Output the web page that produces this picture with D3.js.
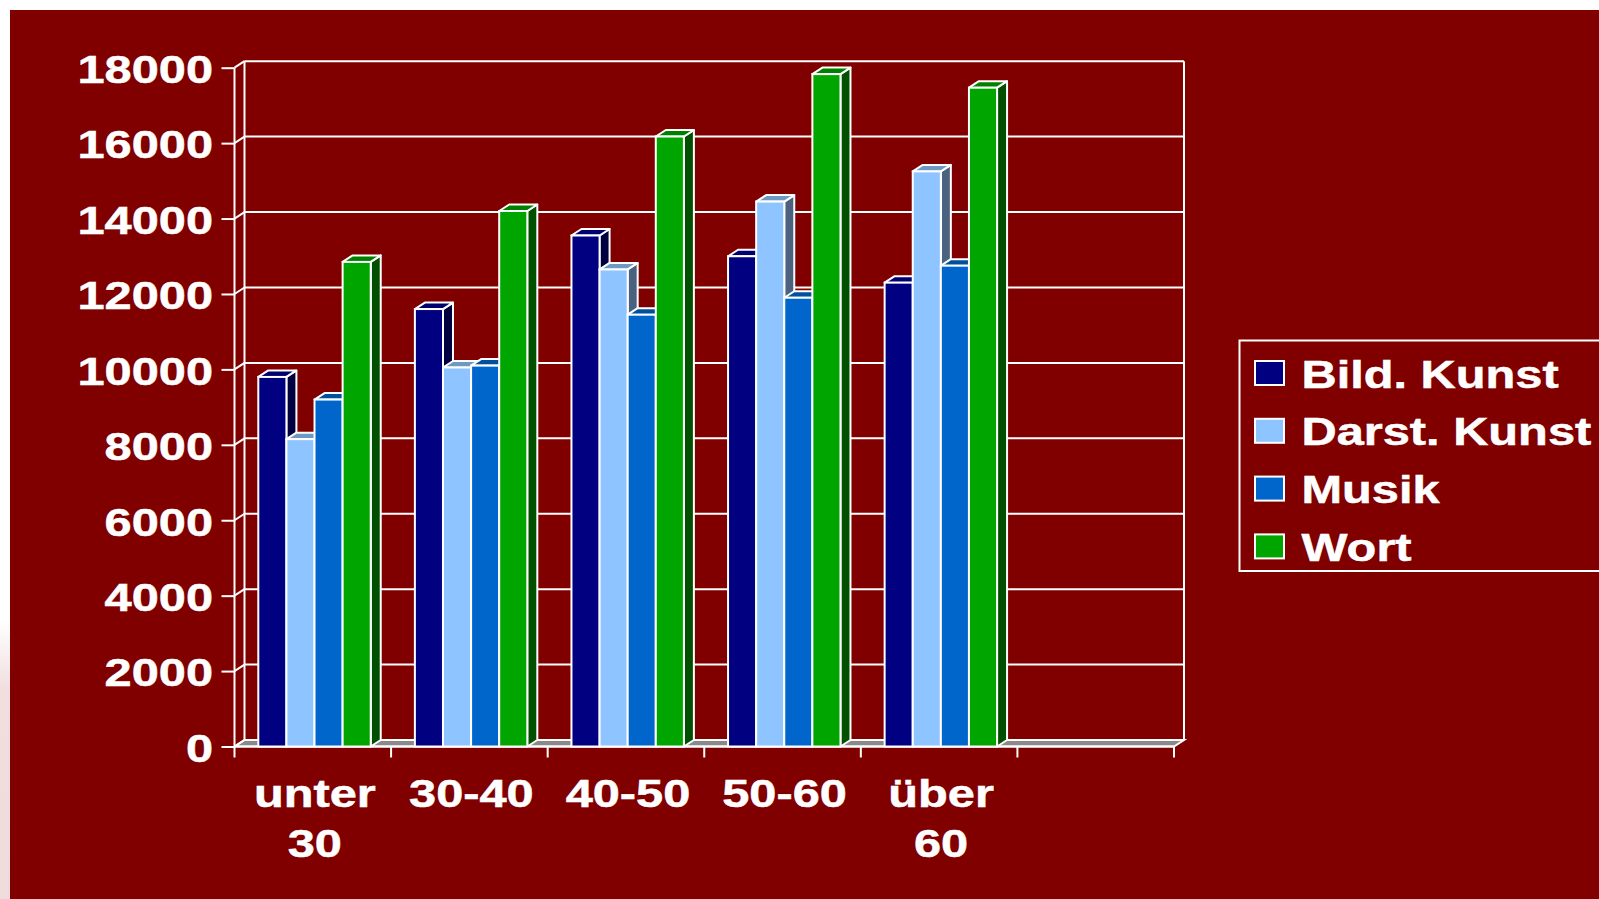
<!DOCTYPE html>
<html>
<head>
<meta charset="utf-8">
<script src="https://cdn.jsdelivr.net/npm/d3@7"></script>
<style>
  html, body { margin: 0; padding: 0; background: #ffffff; overflow: hidden; }
  svg { display: block; }
  text { font-family: "Liberation Sans", Arial, sans-serif; font-weight: bold; fill: #ffffff; stroke: #ffffff; stroke-width: 0.5px; }
</style>
</head>
<body>
<svg id="chart" width="1599" height="899"></svg>
<script>
// ---------- data ----------
const categories = ["unter 30", "30-40", "40-50", "50-60", "über 60", ""];
const seriesNames = ["Bild. Kunst", "Darst. Kunst", "Musik", "Wort"];
const bildKunst  = [9800, 11600, 13550, 13000, 12300];
const darstKunst = [8150, 10050, 12650, 14450, 15250];
const musik      = [9200, 10100, 11450, 11900, 12750];
const wort       = [12850, 14200, 16175, 17830, 17470];
const yTicks = [0, 2000, 4000, 6000, 8000, 10000, 12000, 14000, 16000, 18000];

const seriesValues = [bildKunst, darstKunst, musik, wort];
const frontColors = ["#000080", "#8EC4FF", "#0066CC", "#00A500"];
const topColors   = ["#000070", "#6F98C2", "#0050A0", "#008000"];
const sideColors  = ["#000040", "#4A6280", "#003A78", "#005000"];

// ---------- layout ----------
const svg = d3.select("#chart");
const X0 = 234.5, X1 = 1174, Y0 = 746.5, YT = 67.7;
const DX = 10, DY = -6.5;
const STRETCH = 1.25;
const FS = 39;

const x = d3.scaleBand().domain(d3.range(categories.length)).range([X0, X1]).paddingInner(0).paddingOuter(0);
const bw = x.bandwidth();
const xs = d3.scaleBand().domain(seriesNames).range([bw * 0.152, bw * 0.87]).paddingInner(0);
const y = d3.scaleLinear().domain([0, 18000]).range([Y0, YT]);

// horizontal stretch of glyphs around the anchor point
function stretch(sel) {
  sel.each(function () {
    const tx = +this.getAttribute("x") || 0;
    const ty = +this.getAttribute("y") || 0;
    this.setAttribute("x", 0);
    this.setAttribute("y", 0);
    this.setAttribute("transform", `translate(${tx},${ty}) scale(${STRETCH},1)`);
  });
}

// background
const defs = svg.append("defs");
const g1 = defs.append("linearGradient").attr("id", "fade").attr("x1", 0).attr("y1", 0).attr("x2", 0).attr("y2", 1);
g1.append("stop").attr("offset", "0").attr("stop-color", "#ffffff");
g1.append("stop").attr("offset", "0.25").attr("stop-color", "#f1dede");
g1.append("stop").attr("offset", "1").attr("stop-color", "#efdbdb");
svg.append("rect").attr("x", 0).attr("y", 620).attr("width", 10).attr("height", 279).attr("fill", "url(#fade)");
svg.append("rect").attr("x", 10).attr("y", 10).attr("width", 1589).attr("height", 889).attr("fill", "#800000");

const line = (x1, y1, x2, y2) => svg.append("line")
  .attr("x1", x1).attr("y1", y1).attr("x2", x2).attr("y2", y2)
  .attr("stroke", "#ffffff").attr("stroke-width", 2);

// floor
svg.append("path")
  .attr("d", `M${X0},${Y0} L${X1},${Y0} L${X1 + DX},${Y0 + DY} L${X0 + DX},${Y0 + DY} Z`)
  .attr("fill", "#8a8a8a").attr("stroke", "#ffffff").attr("stroke-width", 2);

// back wall gridlines + left wall diagonals
yTicks.forEach(t => {
  const yy = y(t);
  line(X0 + DX, yy + DY, X1 + DX, yy + DY);
  line(X0, yy, X0 + DX, yy + DY);
});
// wall verticals
line(X0, y(18000), X0, Y0);
line(X0 + DX, y(18000) + DY, X0 + DX, Y0 + DY);
line(X1 + DX, y(18000) + DY, X1 + DX, Y0 + DY);
// front floor edge
line(X0, Y0, X1, Y0);

// y axis
const yAxis = d3.axisLeft(y).tickValues(yTicks).tickSize(13).tickPadding(8.5).tickFormat(d3.format("d"));
const ya = svg.append("g").attr("transform", `translate(${X0},0)`).call(yAxis);
ya.select(".domain").remove();
ya.selectAll(".tick line").attr("stroke", "#ffffff").attr("stroke-width", 2);
ya.selectAll(".tick text").attr("font-size", FS).attr("font-family", "Liberation Sans, Arial, sans-serif")
  .attr("font-weight", "bold").attr("fill", "#ffffff").attr("dy", "0.38em").call(stretch);

// x ticks at band boundaries
const bounds = d3.range(categories.length).map(i => x(i)).concat([X1]);
svg.append("g").selectAll("line").data(bounds).join("line")
  .attr("x1", d => d).attr("x2", d => d).attr("y1", Y0).attr("y2", Y0 + 11)
  .attr("stroke", "#ffffff").attr("stroke-width", 2);

// bars
const barsG = svg.append("g");
categories.forEach((cat, ci) => {
  seriesNames.forEach((s, si) => {
    const v = seriesValues[si][ci];
    if (v === undefined) return;
    const bx = x(ci) + xs(s);
    const w = xs.bandwidth();
    const yt = y(v), yb = y(0);
    const g = barsG.append("g");
    g.append("path")
      .attr("d", `M${bx + w},${yt} L${bx + w + DX},${yt + DY} L${bx + w + DX},${yb + DY} L${bx + w},${yb} Z`)
      .attr("fill", sideColors[si]).attr("stroke", "#ffffff").attr("stroke-width", 2).attr("stroke-linejoin", "round");
    g.append("path")
      .attr("d", `M${bx},${yt} L${bx + DX},${yt + DY} L${bx + w + DX},${yt + DY} L${bx + w},${yt} Z`)
      .attr("fill", topColors[si]).attr("stroke", "#ffffff").attr("stroke-width", 2).attr("stroke-linejoin", "round");
    g.append("rect").attr("x", bx).attr("y", yt).attr("width", w).attr("height", yb - yt)
      .attr("fill", frontColors[si]).attr("stroke", "#ffffff").attr("stroke-width", 2);
  });
});

// category labels
const catG = svg.append("g");
categories.forEach((cat, ci) => {
  if (!cat) return;
  const cx = x(ci) + bw / 2 + 2;
  const parts = cat.split(" ");
  parts.forEach((p, li) => {
    catG.append("text").attr("x", cx).attr("y", 807 + li * 50)
      .attr("text-anchor", "middle").attr("font-size", FS).text(p).call(stretch);
  });
});

// legend
const lg = svg.append("g");
lg.append("rect").attr("x", 1239.5).attr("y", 340.5).attr("width", 420).attr("height", 230.5)
  .attr("fill", "none").attr("stroke", "#ffffff").attr("stroke-width", 2);
seriesNames.forEach((s, i) => {
  const ty = 361 + i * 57.8;
  lg.append("rect").attr("x", 1255).attr("y", ty).attr("width", 29).attr("height", 24)
    .attr("fill", frontColors[i]).attr("stroke", "#ffffff").attr("stroke-width", 2);
  lg.append("text").attr("x", 1301.5).attr("y", ty + 26.5).attr("font-size", FS).text(s).call(stretch);
});
</script>
</body>
</html>
